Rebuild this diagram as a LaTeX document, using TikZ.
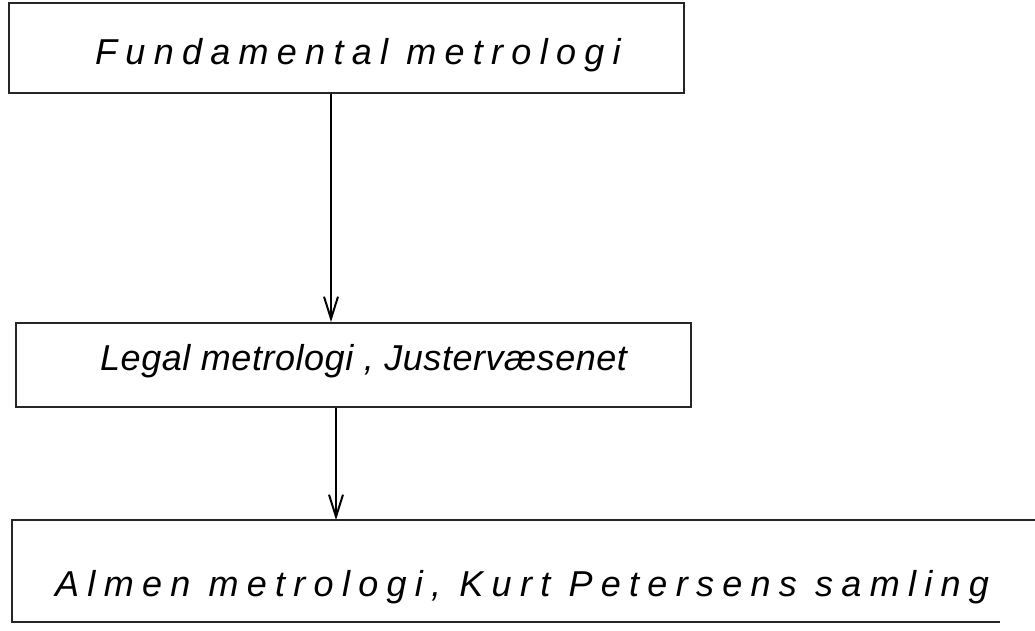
\documentclass[tikz,border=0pt]{standalone}
\usepackage{fontspec}
\newfontfamily\handA[LetterSpace=23]{Liberation Sans}
\newfontfamily\handB[LetterSpace=1.5]{Liberation Sans}
\newfontfamily\handC[LetterSpace=23]{Liberation Sans}
\usetikzlibrary{arrows.meta}
\begin{document}
\begin{tikzpicture}[x=1pt,y=-1pt,
  boxline/.style={line width=1.6pt, black!85},
  txt/.style={inner sep=0pt, anchor=base west},
  conn/.style={line width=2.8pt, -{Straight Barb[length=22pt,width=14pt,line width=2pt]}}]
\useasboundingbox (0,0) rectangle (1035,630);
\fill[white] (0,0) rectangle (1035,630);
% boxes
\node[draw, boxline, minimum width=675pt, minimum height=90pt, inner sep=0pt, anchor=north west] (top) at (8,2) {};
\node[draw, boxline, minimum width=675pt, minimum height=84pt, inner sep=0pt, anchor=north west] (mid) at (15,322) {};
\coordinate (botNW) at (12,520);
\coordinate (botSW) at (12,622);
\coordinate (botNE) at (1035,520);
\coordinate (botSE) at (1000,622);
\draw[boxline] (botNE) -- (botNW) -- (botSW) -- (botSE);
% texts
\node[txt, font=\handA\itshape\fontsize{36}{36}\selectfont] (t1) at (95,64) {Fundamental metrologi};
\node[txt, font=\handB\itshape\fontsize{36}{36}\selectfont] (t2) at (100,370) {Legal metrologi , Justervæsenet};
\node[txt, font=\handC\itshape\fontsize{36}{36}\selectfont] (t3) at (55,596) {Almen metrologi, Kurt Petersens samling};
% connectors
\coordinate (a1) at (top.south -| 331,0);
\coordinate (b1) at (mid.north -| 331,0);
\draw[conn] (a1) -- (b1);
\coordinate (a2) at (mid.south -| 336,0);
\coordinate (b2) at (botNW -| 336,0);
\draw[conn] (a2) -- (b2);
\end{tikzpicture}
\end{document}
